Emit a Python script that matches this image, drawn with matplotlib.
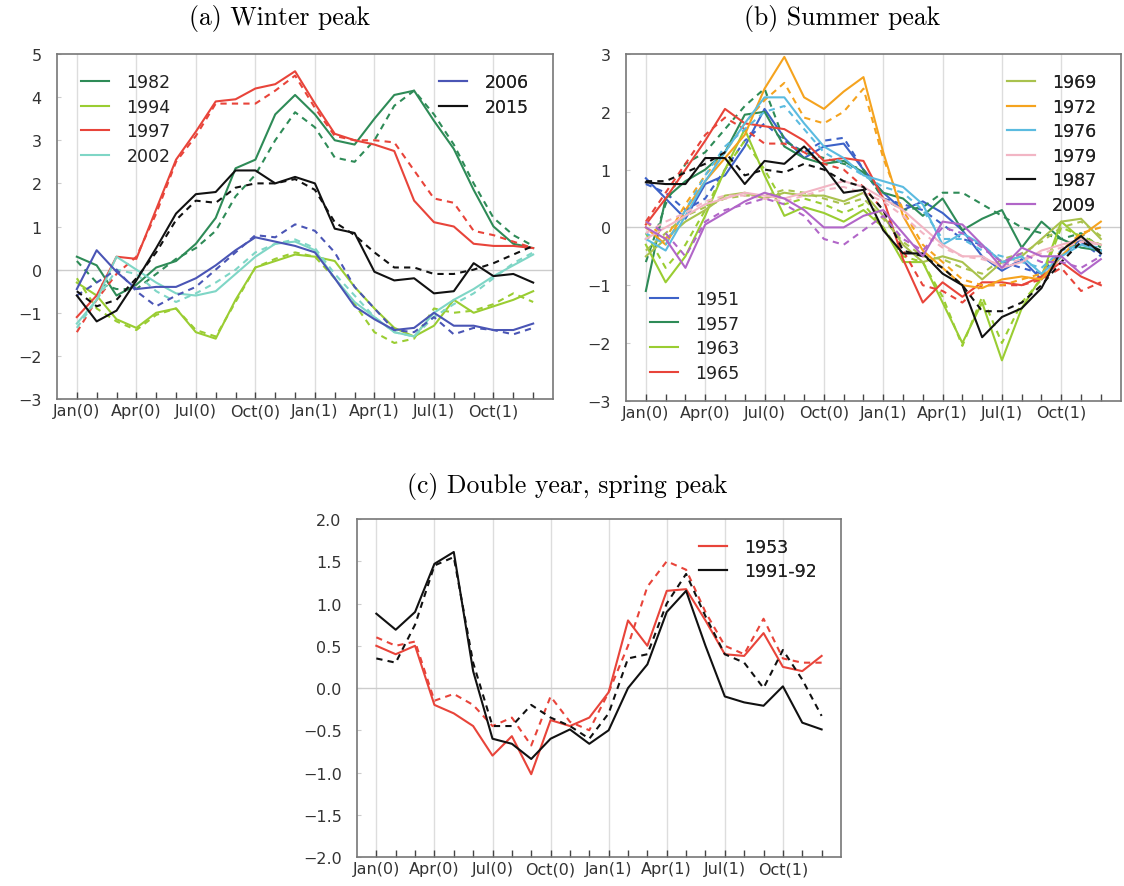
import matplotlib
matplotlib.use("Agg")
import matplotlib.pyplot as plt
from matplotlib.ticker import FuncFormatter

months = list(range(24))
tick_pos = [0, 3, 6, 9, 12, 15, 18, 21]
tick_labels = ['Jan(0)', 'Apr(0)', 'Jul(0)', 'Oct(0)', 'Jan(1)', 'Apr(1)', 'Jul(1)', 'Oct(1)']

# (a) winter peak: solid and dashed series
a1982 = [0.3, 0.1, -0.6, -0.35, 0.05, 0.2, 0.6, 1.2, 2.35, 2.55, 3.6, 4.05, 3.6, 3.0, 2.9, 3.5, 4.05, 4.15, 3.45, 2.8, 1.85, 1.0, 0.6, 0.5]
a1982d = [0.2, -0.3, -0.45, -0.45, -0.1, 0.25, 0.5, 0.9, 1.7, 2.2, 3.0, 3.65, 3.3, 2.6, 2.5, 3.0, 3.8, 4.15, 3.6, 2.9, 2.0, 1.2, 0.8, 0.55]
a1994 = [-0.3, -0.6, -1.15, -1.35, -1.0, -0.9, -1.45, -1.6, -0.7, 0.05, 0.2, 0.35, 0.3, 0.2, -0.4, -0.9, -1.35, -1.55, -1.3, -0.7, -1.0, -0.85, -0.7, -0.5]
a1994d = [-0.2, -0.9, -1.2, -1.4, -1.05, -0.9, -1.4, -1.55, -0.75, 0.05, 0.25, 0.4, 0.3, -0.2, -0.8, -1.45, -1.7, -1.6, -0.9, -1.0, -0.95, -0.8, -0.55, -0.75]
a1997 = [-1.1, -0.6, 0.3, 0.25, 1.4, 2.55, 3.2, 3.9, 3.95, 4.2, 4.3, 4.6, 3.85, 3.15, 3.0, 2.9, 2.75, 1.6, 1.1, 1.0, 0.6, 0.55, 0.55, 0.5]
a1997d = [-1.45, -0.7, -0.1, 0.3, 1.3, 2.5, 3.1, 3.85, 3.85, 3.85, 4.15, 4.5, 3.75, 3.1, 3.0, 3.0, 2.95, 2.3, 1.65, 1.55, 0.9, 0.8, 0.65, 0.5]
a2002 = [-1.25, -0.7, 0.3, 0.0, -0.3, -0.55, -0.6, -0.5, -0.1, 0.3, 0.6, 0.65, 0.45, -0.2, -0.75, -1.1, -1.45, -1.55, -1.0, -0.7, -0.45, -0.15, 0.1, 0.35]
a2002d = [-1.35, -0.7, 0.0, -0.1, -0.5, -0.75, -0.55, -0.3, 0.0, 0.4, 0.6, 0.7, 0.5, -0.1, -0.6, -1.1, -1.45, -1.55, -1.1, -0.8, -0.55, -0.2, 0.15, 0.4]
a2006 = [-0.45, 0.45, -0.05, -0.45, -0.4, -0.4, -0.2, 0.1, 0.45, 0.75, 0.65, 0.55, 0.4, -0.2, -0.85, -1.15, -1.4, -1.35, -1.0, -1.3, -1.3, -1.4, -1.4, -1.25]
a2006d = [-0.6, -0.3, 0.0, -0.5, -0.85, -0.6, -0.4, 0.0, 0.4, 0.8, 0.75, 1.05, 0.9, 0.4, -0.4, -0.9, -1.4, -1.45, -1.1, -1.5, -1.35, -1.4, -1.5, -1.35]
a2015 = [-0.6, -1.2, -0.95, -0.25, 0.5, 1.3, 1.75, 1.8, 2.3, 2.3, 2.0, 2.15, 2.0, 0.95, 0.85, -0.05, -0.25, -0.2, -0.55, -0.5, 0.15, -0.15, -0.1, -0.3]
a2015d = [-0.5, -0.85, -0.7, -0.2, 0.4, 1.15, 1.6, 1.55, 1.9, 2.0, 2.0, 2.1, 1.85, 1.1, 0.8, 0.4, 0.05, 0.05, -0.1, -0.1, 0.0, 0.15, 0.35, 0.55]

# (b) summer peak
b1951 = [0.85, 0.5, 0.15, 0.75, 0.9, 1.4, 2.05, 1.55, 1.2, 1.4, 1.45, 1.0, 0.6, 0.3, 0.45, 0.25, -0.05, -0.5, -0.75, -0.55, -0.9, -0.5, -0.2, -0.45]
b1951d = [0.75, 0.6, 0.3, 0.5, 1.0, 1.5, 1.8, 1.5, 1.3, 1.5, 1.55, 1.0, 0.5, 0.4, 0.3, 0.05, -0.2, -0.3, -0.6, -0.7, -0.8, -0.4, -0.25, -0.5]
b1957 = [-1.1, 0.5, 0.8, 1.0, 1.3, 1.95, 2.0, 1.4, 1.2, 1.1, 1.15, 0.95, 0.6, 0.5, 0.2, 0.5, -0.05, 0.15, 0.3, -0.35, 0.1, -0.2, -0.35, -0.4]
b1957d = [-0.6, 0.4, 1.1, 1.3, 1.7, 2.1, 2.4, 1.5, 1.3, 1.2, 1.1, 1.0, 0.5, 0.3, 0.35, 0.6, 0.6, 0.4, 0.2, 0.0, -0.1, -0.2, -0.1, -0.35]
b1963 = [-0.3, -0.95, -0.5, 0.2, 1.0, 1.7, 0.9, 0.2, 0.35, 0.25, 0.1, 0.3, 0.0, -0.6, -0.6, -1.3, -2.0, -1.3, -2.3, -1.4, -0.85, 0.1, -0.2, -0.3]
b1963d = [-0.1, -0.7, -0.3, 0.3, 1.0, 1.5, 1.0, 0.4, 0.5, 0.4, 0.25, 0.4, 0.0, -0.5, -0.6, -1.2, -2.05, -1.2, -2.0, -1.3, -0.9, 0.0, -0.15, -0.3]
b1965 = [0.05, 0.5, 1.0, 1.5, 2.05, 1.8, 1.75, 1.7, 1.5, 1.15, 1.2, 1.15, 0.5, -0.55, -1.3, -0.95, -1.2, -0.95, -0.95, -1.0, -0.85, -0.6, -0.85, -1.0]
b1965d = [0.1, 0.6, 1.1, 1.6, 1.9, 1.7, 1.45, 1.45, 1.3, 1.1, 1.0, 0.7, 0.3, -0.4, -1.0, -1.1, -1.3, -1.0, -1.0, -1.0, -0.9, -0.7, -1.1, -0.95]
b1969 = [-0.5, -0.2, 0.1, 0.3, 0.55, 0.6, 0.5, 0.6, 0.55, 0.55, 0.45, 0.6, 0.2, -0.3, -0.6, -0.5, -0.6, -0.9, -0.6, -0.5, -0.2, 0.1, 0.15, -0.2]
b1969d = [-0.4, -0.1, 0.2, 0.35, 0.5, 0.55, 0.55, 0.65, 0.6, 0.5, 0.4, 0.5, 0.15, -0.25, -0.5, -0.55, -0.7, -0.8, -0.55, -0.45, -0.25, 0.0, 0.1, -0.15]
b1972 = [0.0, -0.3, 0.3, 0.8, 1.2, 1.6, 2.4, 2.95, 2.25, 2.05, 2.35, 2.6, 1.3, 0.2, -0.4, -0.7, -1.0, -1.05, -0.9, -0.85, -0.9, -0.5, -0.15, 0.1]
b1972d = [0.1, -0.2, 0.4, 0.9, 1.3, 1.8, 2.2, 2.5, 1.9, 1.8, 2.0, 2.4, 1.2, 0.3, -0.3, -0.6, -0.9, -1.0, -1.0, -0.9, -0.8, -0.4, -0.1, 0.0]
b1976 = [-0.2, -0.4, 0.2, 0.8, 1.3, 1.8, 2.25, 2.25, 1.8, 1.4, 1.2, 0.9, 0.8, 0.7, 0.4, -0.3, -0.1, -0.3, -0.6, -0.5, -0.8, -0.5, -0.3, -0.4]
b1976d = [-0.1, -0.3, 0.3, 0.9, 1.4, 1.7, 2.0, 2.1, 1.7, 1.3, 1.1, 0.9, 0.7, 0.6, 0.3, -0.2, -0.2, -0.4, -0.5, -0.6, -0.7, -0.4, -0.3, -0.35]
b1979 = [-0.2, 0.0, 0.2, 0.4, 0.5, 0.6, 0.55, 0.5, 0.6, 0.7, 0.8, 0.7, 0.5, 0.3, 0.0, -0.3, -0.5, -0.5, -0.7, -0.6, -0.4, -0.3, -0.2, -0.3]
b1979d = [-0.1, 0.1, 0.25, 0.45, 0.55, 0.55, 0.5, 0.45, 0.55, 0.65, 0.7, 0.6, 0.45, 0.2, -0.1, -0.35, -0.5, -0.55, -0.65, -0.55, -0.45, -0.35, -0.25, -0.3]
b1987 = [0.78, 0.75, 0.75, 1.2, 1.2, 0.75, 1.15, 1.1, 1.4, 1.05, 0.6, 0.65, -0.05, -0.45, -0.45, -0.8, -1.0, -1.9, -1.55, -1.4, -1.05, -0.4, -0.15, -0.45]
b1987d = [0.8, 0.8, 0.95, 1.1, 1.3, 0.9, 1.0, 0.95, 1.1, 1.0, 0.8, 0.7, 0.3, -0.4, -0.5, -0.7, -1.0, -1.45, -1.45, -1.3, -1.0, -0.6, -0.25, -0.4]
b2009 = [0.0, -0.2, -0.7, 0.05, 0.25, 0.45, 0.6, 0.5, 0.3, 0.0, 0.0, 0.2, 0.3, -0.1, -0.5, 0.1, 0.05, -0.3, -0.7, -0.35, -0.5, -0.5, -0.8, -0.55]
b2009d = [0.1, -0.1, -0.5, 0.1, 0.3, 0.4, 0.5, 0.4, 0.2, -0.2, -0.3, -0.05, 0.2, -0.2, -0.4, 0.0, -0.1, -0.35, -0.6, -0.45, -0.6, -0.6, -0.7, -0.5]

# (c) double year, spring peak
c1953 = [0.5, 0.4, 0.5, -0.2, -0.3, -0.45, -0.8, -0.57, -1.02, -0.38, -0.45, -0.35, -0.05, 0.8, 0.5, 1.15, 1.17, 0.8, 0.4, 0.38, 0.65, 0.25, 0.2, 0.38]
c1953d = [0.6, 0.5, 0.55, -0.15, -0.07, -0.2, -0.45, -0.35, -0.68, -0.1, -0.4, -0.5, -0.05, 0.5, 1.2, 1.5, 1.4, 0.9, 0.5, 0.4, 0.82, 0.35, 0.3, 0.3]
c9192 = [0.88, 0.69, 0.9, 1.47, 1.61, 0.2, -0.6, -0.66, -0.84, -0.6, -0.49, -0.66, -0.5, 0.0, 0.28, 0.9, 1.15, 0.5, -0.1, -0.17, -0.21, 0.02, -0.41, -0.49]
c9192d = [0.35, 0.3, 0.75, 1.45, 1.55, 0.3, -0.45, -0.45, -0.2, -0.35, -0.45, -0.6, -0.3, 0.35, 0.4, 1.0, 1.35, 0.85, 0.4, 0.3, 0.0, 0.45, 0.1, -0.33]

GREEN = '#2e8b57'
YGREEN = '#9acd32'
RED = '#e8443a'
TEAL = '#7fd6c6'
SLATE = '#4a55b5'
BLUE = '#3d62c8'
OLIVE = '#a9c24e'
ORANGE = '#f5a31e'
SKY = '#5bbbe0'
PINK = '#f2b5c4'
PURPLE = '#b166c8'
BLACK = '#111111'

TITLE_FONT = dict(family='cmr10', size=18.5)


def style_axes(ax, ylim, yticks):
    ax.set_xlim(-1, 24)
    ax.set_ylim(*ylim)
    ax.set_xticks(months, minor=True)
    ax.set_xticks(tick_pos)
    ax.set_xticklabels(tick_labels)
    ax.set_yticks(yticks)
    ax.tick_params(axis='both', which='both', direction='in', labelsize=11.5,
                   labelcolor='#333333', top=False, right=False)
    ax.tick_params(axis='x', which='both', length=5, width=1.0, color='#444444', pad=3)
    ax.tick_params(axis='y', which='major', length=3, color='#cccccc', pad=11)
    for x in tick_pos:
        ax.axvline(x, color='#dddddd', lw=1.0, zorder=0)
    ax.axhline(0, color='#cccccc', lw=1.0, zorder=0)
    for s in ax.spines.values():
        s.set_color('#777777')
        s.set_linewidth(1.2)


def draw(ax, solid, dashed, color, label):
    line, = ax.plot(months, solid, color=color, lw=1.5, label=label)
    ax.plot(months, dashed, color=color, lw=1.5, ls=(0, (3, 2.5)))
    return line


def add_legend(ax, handles, loc, anchor):
    leg = ax.legend(handles=handles, loc=loc, bbox_to_anchor=anchor, frameon=False,
                    fontsize=12.5, handlelength=1.6, handletextpad=1.0, labelspacing=0.38,
                    borderaxespad=0.0)
    for t in leg.get_texts():
        t.set_color('#222222')
    ax.add_artist(leg)
    return leg


fig = plt.figure(figsize=(11.24, 8.87), dpi=100)
ax_a = fig.add_axes([0.0507, 0.549, 0.4413, 0.389])
ax_b = fig.add_axes([0.557, 0.547, 0.440, 0.391])
ax_c = fig.add_axes([0.3176, 0.0327, 0.4306, 0.381])

# panel (a)
style_axes(ax_a, (-3, 5), range(-3, 6))
h1 = draw(ax_a, a1982, a1982d, GREEN, '1982')
h2 = draw(ax_a, a1994, a1994d, YGREEN, '1994')
h3 = draw(ax_a, a1997, a1997d, RED, '1997')
h4 = draw(ax_a, a2002, a2002d, TEAL, '2002')
h5 = draw(ax_a, a2006, a2006d, SLATE, '2006')
h6 = draw(ax_a, a2015, a2015d, BLACK, '2015')
add_legend(ax_a, [h1, h2, h3, h4], 'upper left', (0.035, 0.965))
add_legend(ax_a, [h5, h6], 'upper right', (0.965, 0.965))

# panel (b)
style_axes(ax_b, (-3, 3), range(-3, 4))
g1 = draw(ax_b, b1951, b1951d, BLUE, '1951')
g2 = draw(ax_b, b1957, b1957d, GREEN, '1957')
g3 = draw(ax_b, b1963, b1963d, YGREEN, '1963')
g4 = draw(ax_b, b1965, b1965d, RED, '1965')
g5 = draw(ax_b, b1969, b1969d, OLIVE, '1969')
g6 = draw(ax_b, b1972, b1972d, ORANGE, '1972')
g7 = draw(ax_b, b1976, b1976d, SKY, '1976')
g8 = draw(ax_b, b1979, b1979d, PINK, '1979')
g9 = draw(ax_b, b1987, b1987d, BLACK, '1987')
g10 = draw(ax_b, b2009, b2009d, PURPLE, '2009')
add_legend(ax_b, [g1, g2, g3, g4], 'lower left', (0.035, 0.035))
add_legend(ax_b, [g5, g6, g7, g8, g9, g10], 'upper right', (0.965, 0.965))

# panel (c)
style_axes(ax_c, (-2, 2), [-2, -1.5, -1, -0.5, 0, 0.5, 1, 1.5, 2])
ax_c.yaxis.set_major_formatter(FuncFormatter(lambda v, p: f'{v:.1f}'.replace('-', '\u2212')))
k1 = draw(ax_c, c1953, c1953d, RED, '1953')
k2 = draw(ax_c, c9192, c9192d, BLACK, '1991-92')
add_legend(ax_c, [k1, k2], 'upper right', (0.965, 0.965))

fig.text(0.249, 0.979, '(a) Winter peak', ha='center', va='center', **TITLE_FONT)
fig.text(0.749, 0.979, '(b) Summer peak', ha='center', va='center', **TITLE_FONT)
fig.text(0.505, 0.451, '(c) Double year, spring peak', ha='center', va='center', **TITLE_FONT)

fig.savefig('out.png', dpi=100)
